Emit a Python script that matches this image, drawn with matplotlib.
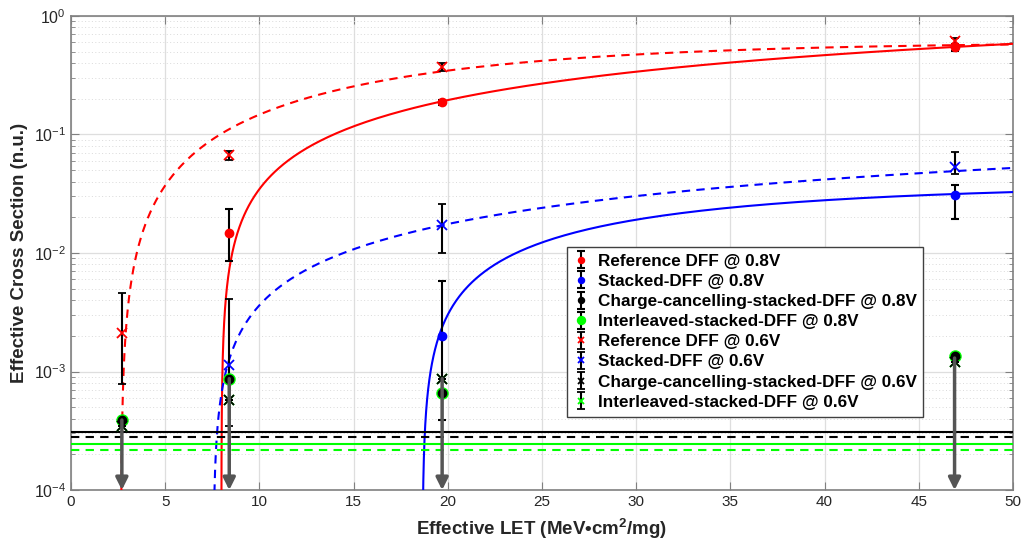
import numpy as np
import matplotlib
matplotlib.use("Agg")
import matplotlib.pyplot as plt
from matplotlib import font_manager

# ---------------- data ----------------
ref08_x = [8.4, 19.7, 46.9]
ref08_y = [0.0147, 0.188, 0.545]
ref08_lo = [0.0086, 0.178, 0.510]
ref08_hi = [0.0235, 0.197, 0.585]

stk08_x = [19.7, 46.9]
stk08_y = [0.0020, 0.0307]
stk08_lo = [0.00039, 0.0195]
stk08_hi = [0.0058, 0.0378]

cc08_x = [2.7, 8.4, 19.7, 46.9]
cc08_y = [3.9e-4, 8.7e-4, 6.6e-4, 1.36e-3]

il08_x = [2.7, 8.4, 19.7, 46.9]
il08_y = [3.9e-4, 8.7e-4, 6.6e-4, 1.36e-3]

ref06_x = [2.7, 8.4, 19.7, 46.9]
ref06_y = [2.1e-3, 0.0668, 0.373, 0.620]
ref06_lo = [7.9e-4, 0.0607, 0.345, 0.585]
ref06_hi = [4.6e-3, 0.0727, 0.403, 0.655]

stk06_x = [8.4, 19.7, 46.9]
stk06_y = [1.13e-3, 0.0171, 0.053]
stk06_lo = [3.5e-4, 0.0100, 0.0468]
stk06_hi = [4.1e-3, 0.0261, 0.0713]

cc06_x = [2.7, 8.4, 19.7, 46.9]
cc06_y = [3.5e-4, 5.7e-4, 8.7e-4, 1.2e-3]

il06_x = [2.7, 8.4, 19.7, 46.9]
il06_y = [3.5e-4, 5.7e-4, 8.7e-4, 1.2e-3]

# upper-limit arrows (no upsets observed)
arrow_x = [2.7, 8.4, 19.7, 46.9]
arrow_top = [3.9e-4, 8.7e-4, 8.7e-4, 1.3e-3]

# Weibull fit parameters: (onset L0, width W, shape s, saturation A)
ref08_fit = (7.98, 90.0, 1.0, 1.56)
ref06_fit = (2.65, 19.5, 1.3, 0.60)
stk08_fit = (18.65, 16.5, 1.0, 0.0384)
stk06_fit = (7.55, 105.0, 1.0, 0.157)

# horizontal limit lines
cc08_limit = 3.06e-4
cc06_limit = 2.78e-4
il08_limit = 2.47e-4
il06_limit = 2.16e-4

labels = ["Reference DFF @ 0.8V", "Stacked-DFF @ 0.8V",
          "Charge-cancelling-stacked-DFF @ 0.8V", "Interleaved-stacked-DFF @ 0.8V",
          "Reference DFF @ 0.6V", "Stacked-DFF @ 0.6V",
          "Charge-cancelling-stacked-DFF @ 0.6V", "Interleaved-stacked-DFF @ 0.6V"]

xticks = [0, 5, 10, 15, 20, 25, 30, 35, 40, 45, 50]

# ---------------- fonts ----------------
avail = {f.name for f in font_manager.fontManager.ttflist}
narrow = "Liberation Sans Narrow" if "Liberation Sans Narrow" in avail else "Liberation Sans"
plt.rcParams["font.family"] = ["Liberation Sans", "DejaVu Sans"]
plt.rcParams["mathtext.fontset"] = "custom"
plt.rcParams["mathtext.rm"] = narrow
plt.rcParams["mathtext.it"] = narrow
plt.rcParams["mathtext.bf"] = narrow + ":bold"

fig = plt.figure(figsize=(10.26, 5.5), dpi=100)
ax = fig.add_axes([0.0692, 0.109, 0.9181, 0.862])


def weibull(p, xmax=50.0):
    L0, W, s, A = p
    L = L0 + np.geomspace(1e-5, xmax - L0, 800)
    return L, A * (1.0 - np.exp(-((L - L0) / W) ** s))


RED, BLUE, GREEN = "#ff0000", "#0000ff", "#00ff00"

# fit curves
for p, c, ls in [(ref08_fit, RED, "-"), (ref06_fit, RED, (0, (4, 3))),
                 (stk08_fit, BLUE, "-"), (stk06_fit, BLUE, (0, (4, 3)))]:
    L, y = weibull(p)
    ax.plot(L, y, color=c, lw=1.5, ls=ls, zorder=3)

# limit lines
ax.axhline(cc08_limit, color="black", lw=1.5, zorder=3)
ax.axhline(cc06_limit, color="black", lw=1.5, ls=(0, (4, 3)), zorder=3)
ax.axhline(il08_limit, color=GREEN, lw=1.5, zorder=3)
ax.axhline(il06_limit, color=GREEN, lw=1.5, ls=(0, (4, 3)), zorder=3)


def eb(x, y, lo, hi, marker, color, ms, label, z=5, mew=1.5):
    y = np.asarray(y)
    if lo is None:
        err = np.zeros((2, len(y)))
    else:
        err = np.vstack([y - np.asarray(lo), np.asarray(hi) - y])
    h = ax.errorbar(x, y, yerr=err, fmt=marker, color=color, ecolor="black",
                    elinewidth=1.5, capsize=3, capthick=1.5, ms=ms, mew=mew,
                    label=label, zorder=z)
    return h


handles = []
handles.append(eb(ref08_x, ref08_y, ref08_lo, ref08_hi, "o", RED, 5.5, labels[0]))
handles.append(eb(stk08_x, stk08_y, stk08_lo, stk08_hi, "o", BLUE, 5.5, labels[1]))
handles.append(eb(cc08_x, cc08_y, None, None, "o", "black", 5.5, labels[2], z=7))
handles.append(eb(il08_x, il08_y, None, None, "o", GREEN, 7.5, labels[3], z=6))
handles.append(eb(ref06_x, ref06_y, ref06_lo, ref06_hi, "x", RED, 6.5, labels[4], mew=1.3))
handles.append(eb(stk06_x, stk06_y, stk06_lo, stk06_hi, "x", BLUE, 6.5, labels[5], mew=1.3))
handles.append(eb(cc06_x, cc06_y, None, None, "x", "black", 6.5, labels[6], z=7, mew=1.3))
handles.append(eb(il06_x, il06_y, None, None, "x", GREEN, 6.5, labels[7], z=5, mew=1.3))

# upper-limit arrows
for xa, ya in zip(arrow_x, arrow_top):
    ax.annotate("", xy=(xa, 1.0e-4), xytext=(xa, ya),
                arrowprops=dict(arrowstyle="-|>", color="#555555", lw=2.5,
                                mutation_scale=18, shrinkA=0, shrinkB=0),
                zorder=8)

ax.set_yscale("log")
ax.set_xlim(0, 50)
ax.set_ylim(1e-4, 1)
ax.set_xticks(xticks)
ax.set_xticklabels([str(t) for t in xticks], fontfamily=narrow, fontsize=11)
ax.set_yticks([1e-4, 1e-3, 1e-2, 1e-1, 1])
ax.set_yticklabels([r"$10^{-4}$", r"$10^{-3}$", r"$10^{-2}$", r"$10^{-1}$", r"$10^{0}$"],
                   fontsize=11.5)
ax.yaxis.set_minor_locator(matplotlib.ticker.LogLocator(base=10, subs=np.arange(2, 10)))
ax.yaxis.set_minor_formatter(matplotlib.ticker.NullFormatter())

ax.grid(True, which="major", color="#dedede", lw=0.9, zorder=0)
ax.grid(True, which="minor", axis="y", color="#dadada", lw=0.7, ls=(0, (1, 2.5)), zorder=0)
ax.set_axisbelow(True)

for sp in ax.spines.values():
    sp.set_color("#808080")
    sp.set_linewidth(1.2)
ax.tick_params(which="both", direction="in", top=True, right=True, colors="#808080",
               labelcolor="#262626")
ax.tick_params(which="major", length=6)
ax.tick_params(which="minor", length=3)

ax.set_xlabel("Effective LET (MeV\u2022cm$^{\\mathbf{2}}$/mg)", fontfamily=[narrow, "DejaVu Sans"],
              fontsize=13.5, fontweight="bold", color="#262626", labelpad=6)
ax.set_ylabel("Effective Cross Section (n.u.)", fontsize=13.5, fontweight="bold",
              color="#262626", labelpad=4)

leg = ax.legend(handles=handles, labels=labels, loc="upper left",
                bbox_to_anchor=(0.5265, 0.5127), borderaxespad=0,
                prop=dict(weight="bold", size=12.3), fancybox=False,
                edgecolor="#404040", framealpha=1, labelspacing=0.3,
                handlelength=0.9, handletextpad=0.5, borderpad=0.4,
                markerscale=0.7)
leg.get_frame().set_linewidth(1.0)
leg.set_zorder(20)

fig.savefig("out.png", dpi=100)
